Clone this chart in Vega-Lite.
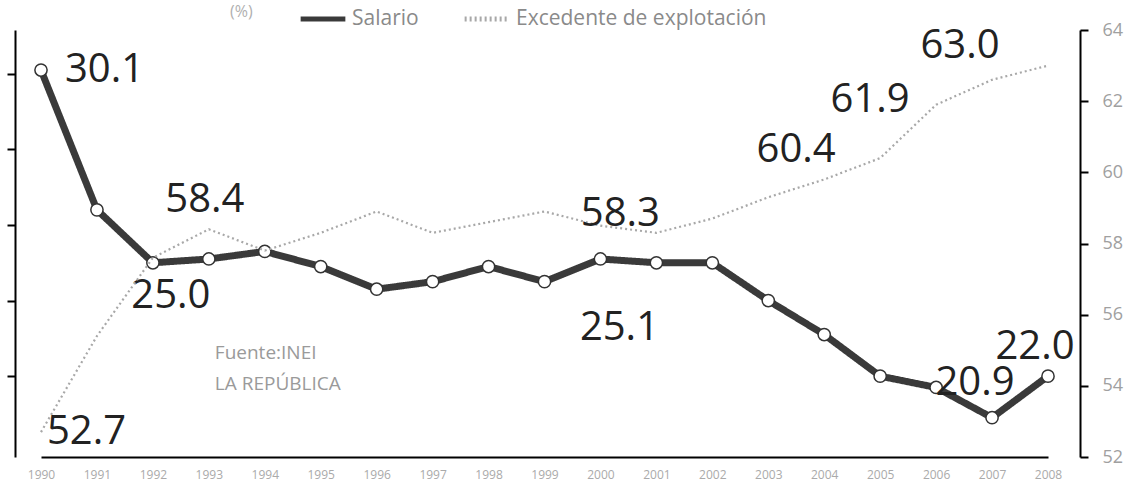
{
  "$schema": "https://vega.github.io/schema/vega-lite/v6.json",
  "width": 1065,
  "height": 427,
  "autosize": "none",
  "padding": {"left": 15, "top": 30, "right": 62, "bottom": 37},
  "background": "white",
  "config": {"view": {"stroke": null}, "font": "Open Sans"},
  "data": {
    "values": [
      {"anio": "1990", "serie": "Salario", "valor": 30.1},
      {"anio": "1991", "serie": "Salario", "valor": 26.4},
      {"anio": "1992", "serie": "Salario", "valor": 25.0},
      {"anio": "1993", "serie": "Salario", "valor": 25.1},
      {"anio": "1994", "serie": "Salario", "valor": 25.3},
      {"anio": "1995", "serie": "Salario", "valor": 24.9},
      {"anio": "1996", "serie": "Salario", "valor": 24.3},
      {"anio": "1997", "serie": "Salario", "valor": 24.5},
      {"anio": "1998", "serie": "Salario", "valor": 24.9},
      {"anio": "1999", "serie": "Salario", "valor": 24.5},
      {"anio": "2000", "serie": "Salario", "valor": 25.1},
      {"anio": "2001", "serie": "Salario", "valor": 25.0},
      {"anio": "2002", "serie": "Salario", "valor": 25.0},
      {"anio": "2003", "serie": "Salario", "valor": 24.0},
      {"anio": "2004", "serie": "Salario", "valor": 23.1},
      {"anio": "2005", "serie": "Salario", "valor": 22.0},
      {"anio": "2006", "serie": "Salario", "valor": 21.7},
      {"anio": "2007", "serie": "Salario", "valor": 20.9},
      {"anio": "2008", "serie": "Salario", "valor": 22.0},
      {"anio": "1990", "serie": "Excedente de explotación", "valor": 52.7},
      {"anio": "1991", "serie": "Excedente de explotación", "valor": 55.4},
      {"anio": "1992", "serie": "Excedente de explotación", "valor": 57.6},
      {"anio": "1993", "serie": "Excedente de explotación", "valor": 58.4},
      {"anio": "1994", "serie": "Excedente de explotación", "valor": 57.8},
      {"anio": "1995", "serie": "Excedente de explotación", "valor": 58.3},
      {"anio": "1996", "serie": "Excedente de explotación", "valor": 58.9},
      {"anio": "1997", "serie": "Excedente de explotación", "valor": 58.3},
      {"anio": "1998", "serie": "Excedente de explotación", "valor": 58.6},
      {"anio": "1999", "serie": "Excedente de explotación", "valor": 58.9},
      {"anio": "2000", "serie": "Excedente de explotación", "valor": 58.5},
      {"anio": "2001", "serie": "Excedente de explotación", "valor": 58.3},
      {"anio": "2002", "serie": "Excedente de explotación", "valor": 58.7},
      {"anio": "2003", "serie": "Excedente de explotación", "valor": 59.3},
      {"anio": "2004", "serie": "Excedente de explotación", "valor": 59.8},
      {"anio": "2005", "serie": "Excedente de explotación", "valor": 60.4},
      {"anio": "2006", "serie": "Excedente de explotación", "valor": 61.9},
      {"anio": "2007", "serie": "Excedente de explotación", "valor": 62.6},
      {"anio": "2008", "serie": "Excedente de explotación", "valor": 63.0}
    ]
  },
  "encoding": {
    "x": {
      "field": "anio",
      "type": "ordinal",
      "scale": {"type": "point", "range": [26, 1033], "padding": 0},
      "axis": {
        "title": null,
        "labelAngle": 0,
        "labelColor": "#aaaaaa",
        "labelFontSize": 12,
        "labelPadding": 12,
        "ticks": false,
        "domainColor": "#000000",
        "domainWidth": 2
      }
    }
  },
  "layer": [
    {
      "encoding": {
        "y": {
          "field": "valor",
          "type": "quantitative",
          "scale": {"domain": [19.86, 31.16], "nice": false, "zero": false},
          "axis": {
            "orient": "left",
            "title": null,
            "labels": false,
            "grid": false,
            "values": [22, 24, 26, 28, 30],
            "tickSize": 8,
            "tickWidth": 2,
            "tickColor": "#000000",
            "domainColor": "#000000",
            "domainWidth": 2
          }
        }
      },
      "layer": [
        {
          "transform": [{"filter": "datum.serie == 'Salario'"}],
          "mark": {"type": "line", "strokeWidth": 7},
          "encoding": {
            "color": {
              "field": "serie",
              "type": "nominal",
              "scale": {"domain": ["Salario", "Excedente de explotación"], "range": ["#3a3a3a", "#a8a8a8"]},
              "legend": {
                "title": "(%)",
                "titleOrient": "left",
                "titleColor": "#b0b0b0",
                "titleFontSize": 16,
                "titleFontWeight": "normal",
                "titlePadding": 45,
                "titleBaseline": "middle",
                "orient": "none",
                "legendX": 215,
                "legendY": -36,
                "direction": "horizontal",
                "symbolType": "stroke",
                "symbolSize": 2000,
                "symbolStrokeWidth": 5,
                "labelFontSize": 21,
                "labelColor": "#8a8a8a",
                "labelLimit": 0,
                "columnPadding": 35
              }
            },
            "strokeDash": {
              "field": "serie",
              "type": "nominal",
              "scale": {"domain": ["Salario", "Excedente de explotación"], "range": [[1, 0], [2, 3]]},
              "legend": null
            }
          }
        },
        {
          "transform": [{"filter": "datum.serie == 'Salario'"}],
          "mark": {"type": "point", "filled": true, "fill": "white", "stroke": "#333333", "strokeWidth": 1.5, "size": 150, "opacity": 1}
        },
        {
          "transform": [{"filter": "datum.serie == 'Salario' && datum.anio == '1990'"}],
          "mark": {"type": "text", "align": "left", "baseline": "middle", "dx": 24, "dy": 0, "fontSize": 40, "color": "#222222"},
          "encoding": {"text": {"field": "valor", "type": "quantitative", "format": ".1f"}}
        },
        {
          "transform": [{"filter": "datum.serie == 'Salario' && datum.anio == '1992'"}],
          "mark": {"type": "text", "align": "center", "baseline": "middle", "dx": 18, "dy": 33, "fontSize": 40, "color": "#222222"},
          "encoding": {"text": {"field": "valor", "type": "quantitative", "format": ".1f"}}
        },
        {
          "transform": [{"filter": "datum.serie == 'Salario' && datum.anio == '2000'"}],
          "mark": {"type": "text", "align": "center", "baseline": "middle", "dx": 19, "dy": 69, "fontSize": 40, "color": "#222222"},
          "encoding": {"text": {"field": "valor", "type": "quantitative", "format": ".1f"}}
        },
        {
          "transform": [{"filter": "datum.serie == 'Salario' && datum.anio == '2007'"}],
          "mark": {"type": "text", "align": "center", "baseline": "middle", "dx": -17, "dy": -35, "fontSize": 40, "color": "#222222"},
          "encoding": {"text": {"field": "valor", "type": "quantitative", "format": ".1f"}}
        },
        {
          "transform": [{"filter": "datum.serie == 'Salario' && datum.anio == '2008'"}],
          "mark": {"type": "text", "align": "center", "baseline": "middle", "dx": -13, "dy": -29, "fontSize": 40, "color": "#222222"},
          "encoding": {"text": {"field": "valor", "type": "quantitative", "format": ".1f"}}
        },
        {
          "data": {"values": [
            {"anio": "1993", "valor": 22.6, "texto": "Fuente:INEI"},
            {"anio": "1993", "valor": 21.8, "texto": "LA REPÚBLICA"}
          ]},
          "mark": {"type": "text", "align": "left", "baseline": "middle", "dx": 6, "fontSize": 19, "color": "#9a9a9a"},
          "encoding": {"text": {"field": "texto", "type": "nominal"}}
        }
      ]
    },
    {
      "encoding": {
        "y": {
          "field": "valor",
          "type": "quantitative",
          "scale": {"domain": [52, 64], "nice": false, "zero": false},
          "axis": {
            "orient": "right",
            "title": null,
            "grid": false,
            "values": [52, 54, 56, 58, 60, 62, 64],
            "tickSize": 8,
            "tickWidth": 2,
            "tickColor": "#000000",
            "domainColor": "#000000",
            "domainWidth": 2,
            "labelColor": "#a0a0a0",
            "labelFontSize": 18,
            "labelPadding": 14
          }
        }
      },
      "layer": [
        {
          "transform": [{"filter": "datum.serie == 'Excedente de explotación'"}],
          "mark": {"type": "line", "strokeWidth": 2.2},
          "encoding": {
            "color": {"field": "serie", "type": "nominal"},
            "strokeDash": {"field": "serie", "type": "nominal", "legend": null}
          }
        },
        {
          "transform": [{"filter": "datum.serie == 'Excedente de explotación' && datum.anio == '1990'"}],
          "mark": {"type": "text", "align": "left", "baseline": "middle", "dx": 6, "dy": 0, "fontSize": 40, "color": "#222222"},
          "encoding": {"text": {"field": "valor", "type": "quantitative", "format": ".1f"}}
        },
        {
          "transform": [{"filter": "datum.serie == 'Excedente de explotación' && datum.anio == '1993'"}],
          "mark": {"type": "text", "align": "center", "baseline": "middle", "dx": -4, "dy": -29, "fontSize": 40, "color": "#222222"},
          "encoding": {"text": {"field": "valor", "type": "quantitative", "format": ".1f"}}
        },
        {
          "transform": [{"filter": "datum.serie == 'Excedente de explotación' && datum.anio == '2001'"}],
          "mark": {"type": "text", "align": "center", "baseline": "middle", "dx": -36, "dy": -19, "fontSize": 40, "color": "#222222"},
          "encoding": {"text": {"field": "valor", "type": "quantitative", "format": ".1f"}}
        },
        {
          "transform": [{"filter": "datum.serie == 'Excedente de explotación' && datum.anio == '2005'"}],
          "mark": {"type": "text", "align": "center", "baseline": "middle", "dx": -84, "dy": -8, "fontSize": 40, "color": "#222222"},
          "encoding": {"text": {"field": "valor", "type": "quantitative", "format": ".1f"}}
        },
        {
          "transform": [{"filter": "datum.serie == 'Excedente de explotación' && datum.anio == '2006'"}],
          "mark": {"type": "text", "align": "center", "baseline": "middle", "dx": -66, "dy": -5, "fontSize": 40, "color": "#222222"},
          "encoding": {"text": {"field": "valor", "type": "quantitative", "format": ".1f"}}
        },
        {
          "transform": [{"filter": "datum.serie == 'Excedente de explotación' && datum.anio == '2008'"}],
          "mark": {"type": "text", "align": "center", "baseline": "middle", "dx": -88, "dy": -20, "fontSize": 40, "color": "#222222"},
          "encoding": {"text": {"field": "valor", "type": "quantitative", "format": ".1f"}}
        }
      ]
    }
  ],
  "resolve": {"scale": {"y": "independent"}}
}
